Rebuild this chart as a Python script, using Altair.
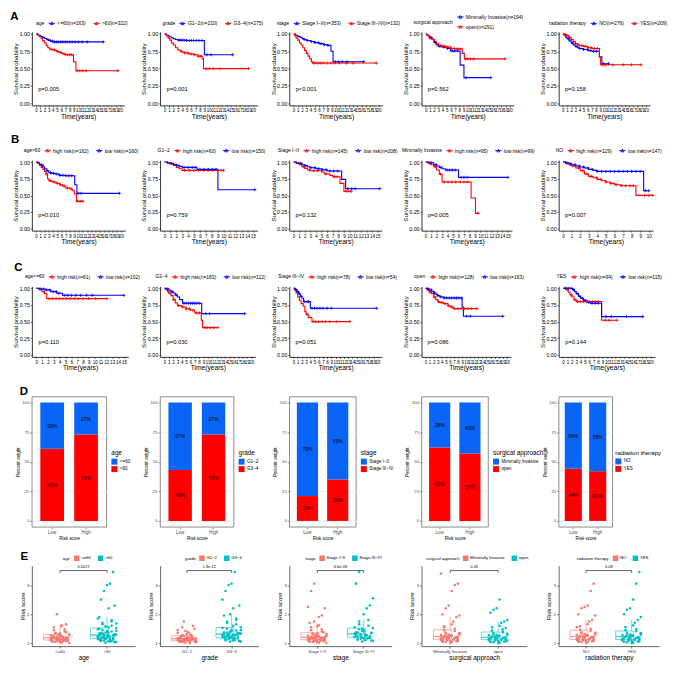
import altair as alt
import pandas as pd

FONT = "Liberation Sans"
KM_RED, KM_BLUE = "#FF0000", "#0000FF"
D_BLUE, D_RED = "#0A64F5", "#FF0000"
E_C1, E_C2 = "#F8766D", "#00BFC4"

# ---------------- Kaplan-Meier data: step times, survival after step, censor times (last = end of follow-up)
# Row A
a1_1_t = [0, 0.5, 1, 1.5, 2, 2.5, 3, 3.5, 4]
a1_1_s = [1, 0.98, 0.965, 0.95, 0.935, 0.92, 0.905, 0.895, 0.885]
a1_1_c = [2.8, 3.4, 3.9, 4.4, 4.9, 5.4, 5.9, 6.4, 6.9, 7.4, 8.0, 8.6, 9.3, 10.1, 11.0, 12.2, 16.0]
a1_2_t = [0, 0.4, 0.8, 1.2, 1.6, 2, 2.4, 2.8, 3.2, 4, 4.5, 5, 5.5, 6, 6.5, 7, 8.9, 9.5]
a1_2_s = [1, 0.98, 0.96, 0.93, 0.9, 0.87, 0.83, 0.8, 0.78, 0.77, 0.76, 0.745, 0.735, 0.72, 0.71, 0.7, 0.6, 0.47]
a1_2_c = [3.6, 4.3, 5.2, 5.9, 6.7, 7.4, 8.0, 8.5, 9.8, 10.4, 11.1, 11.9, 19.5]
a2_1_t = [0, 0.5, 1, 1.5, 2, 2.5, 3, 5, 9]
a2_1_s = [1, 0.98, 0.96, 0.945, 0.93, 0.92, 0.91, 0.905, 0.70]
a2_1_c = [3.3, 3.8, 4.4, 5.0, 5.6, 6.1, 6.6, 7.2, 7.8, 8.5, 9.6, 10.5, 15.4]
a2_2_t = [0, 0.4, 0.8, 1.2, 1.6, 2, 2.5, 3, 3.5, 4, 4.5, 5.5, 6.5, 7.5, 8.5, 8.8]
a2_2_s = [1, 0.97, 0.94, 0.91, 0.87, 0.84, 0.8, 0.77, 0.75, 0.735, 0.725, 0.71, 0.7, 0.68, 0.64, 0.5]
a2_2_c = [3.8, 4.6, 5.3, 6.0, 6.8, 7.6, 8.2, 9.4, 10.1, 11.0, 12.5, 19.0]
a3_1_t = [0, 0.5, 1, 1.5, 2, 2.5, 3, 4, 5, 6, 7, 8, 8.8, 9.3]
a3_1_s = [1, 0.98, 0.965, 0.95, 0.935, 0.92, 0.905, 0.89, 0.875, 0.86, 0.845, 0.835, 0.75, 0.6]
a3_1_c = [2.5, 3.3, 4.2, 5.0, 5.8, 6.5, 7.3, 8.1, 9.8, 10.6, 11.5, 12.6, 16.5]
a3_2_t = [0, 0.3, 0.6, 1, 1.4, 1.8, 2.2, 2.6, 3, 3.4, 3.8, 4.2, 4.5]
a3_2_s = [1, 0.97, 0.94, 0.91, 0.87, 0.84, 0.8, 0.76, 0.72, 0.68, 0.64, 0.6, 0.58]
a3_2_c = [4.7, 5.2, 5.8, 6.4, 7.0, 7.9, 8.8, 9.7, 10.8, 12.4, 14.0, 19.5]
a4_1_t = [0, 0.3, 0.7, 1, 1.5, 2, 2.5, 3, 4, 5, 5.9, 8.2, 9.1]
a4_1_s = [1, 0.98, 0.97, 0.95, 0.92, 0.88, 0.84, 0.82, 0.81, 0.79, 0.755, 0.55, 0.37]
a4_1_c = [1.2, 2.2, 3.4, 4.3, 5.2, 6.3, 6.9, 7.6, 9.6, 15.5]
a4_2_t = [0, 0.3, 0.7, 1, 1.5, 2, 2.5, 3, 3.5, 4, 5, 6, 7, 8.7, 9.2]
a4_2_s = [1, 0.98, 0.96, 0.94, 0.92, 0.89, 0.86, 0.84, 0.83, 0.82, 0.81, 0.79, 0.785, 0.72, 0.64]
a4_2_c = [1.0, 1.8, 2.7, 3.6, 4.5, 5.3, 6.1, 6.8, 7.5, 8.2, 9.5, 10.0, 10.6, 11.4, 18.9]
a5_1_t = [0, 0.3, 0.7, 1, 1.5, 2, 2.5, 3, 3.5, 4, 5, 6, 7, 8.8, 9.4]
a5_1_s = [1, 0.98, 0.95, 0.93, 0.9, 0.87, 0.84, 0.82, 0.8, 0.79, 0.775, 0.76, 0.75, 0.67, 0.57]
a5_1_c = [1.4, 2.3, 3.2, 4.1, 5.0, 5.9, 6.6, 7.4, 8.1, 9.8, 11.0]
a5_2_t = [0, 0.5, 1, 1.5, 2, 2.5, 3, 3.5, 4, 5, 6, 7, 8.8, 9.1]
a5_2_s = [1, 0.99, 0.97, 0.95, 0.92, 0.89, 0.86, 0.84, 0.83, 0.82, 0.8, 0.79, 0.66, 0.555]
a5_2_c = [0.6, 1.3, 2.1, 3.0, 3.8, 4.6, 5.4, 6.1, 6.9, 7.6, 8.3, 9.6, 10.3, 12.0, 14.5, 16.5, 18.8]
# Row B
b1_1_t = [0, 0.4, 0.8, 1.2, 1.6, 2, 2.3, 2.7, 3, 3.5, 4, 4.7, 5.5, 6.2, 7, 8, 8.5, 9, 9.5]
b1_1_s = [1, 0.98, 0.95, 0.92, 0.89, 0.86, 0.82, 0.75, 0.72, 0.71, 0.7, 0.68, 0.66, 0.64, 0.61, 0.6, 0.57, 0.52, 0.41]
b1_1_c = [2.5, 3.3, 4.2, 5.0, 5.8, 6.6, 7.4, 8.2, 9.8, 10.4, 11.0]
b1_2_t = [0, 0.4, 0.8, 1.2, 1.6, 2, 2.5, 3, 3.5, 4.5, 5.5, 7, 9.1, 9.6]
b1_2_s = [1, 0.99, 0.97, 0.95, 0.93, 0.9, 0.87, 0.84, 0.83, 0.82, 0.8, 0.795, 0.66, 0.53]
b1_2_c = [1.5, 2.6, 3.4, 4.1, 4.9, 5.6, 6.3, 7.0, 7.7, 8.4, 9.9, 10.6, 19.6]
b2_1_t = [0, 0.5, 1, 1.5, 2, 2.5, 3]
b2_1_s = [1, 0.98, 0.97, 0.95, 0.92, 0.9, 0.875]
b2_1_c = [3.4, 4.2, 5.0, 5.8, 6.6, 7.4, 8.2, 9.0, 9.6, 10.0]
b2_2_t = [0, 0.5, 1, 1.5, 2, 2.5, 3, 5.5, 9.05]
b2_2_s = [1, 0.99, 0.98, 0.965, 0.95, 0.935, 0.92, 0.89, 0.585]
b2_2_c = [1.2, 2.1, 3.3, 4.0, 4.7, 5.2, 6.0, 6.7, 7.4, 8.1, 8.7, 15.3]
b3_1_t = [0, 0.5, 1, 1.5, 2, 2.5, 3, 5, 5.5, 6.5, 7, 8.3, 9]
b3_1_s = [1, 0.98, 0.96, 0.93, 0.905, 0.88, 0.87, 0.85, 0.82, 0.8, 0.78, 0.68, 0.56]
b3_1_c = [1.8, 2.9, 3.6, 4.3, 5.8, 7.3, 7.8, 9.4, 9.9, 10.3]
b3_2_t = [0, 0.5, 1, 1.5, 2, 2.5, 3, 4, 5, 6, 8.6, 9.3]
b3_2_s = [1, 0.99, 0.98, 0.96, 0.945, 0.93, 0.915, 0.9, 0.885, 0.865, 0.74, 0.6]
b3_2_c = [1.3, 2.2, 3.1, 3.8, 4.5, 5.2, 5.8, 6.5, 7.2, 7.9, 9.7, 10.4, 11.0, 15.4]
b4_1_t = [0, 0.5, 1, 1.5, 2, 2.5, 3, 8.3, 9.1]
b4_1_s = [1, 0.98, 0.96, 0.93, 0.88, 0.82, 0.70, 0.46, 0.23]
b4_1_c = [0.8, 1.7, 2.7, 3.4, 4.1, 4.8, 5.5, 6.3, 7.0, 7.7, 9.6]
b4_2_t = [0, 0.7, 1.5, 2, 2.5, 3, 3.6, 6]
b4_2_s = [1, 0.99, 0.96, 0.94, 0.92, 0.9, 0.88, 0.77]
b4_2_c = [1.0, 1.9, 2.8, 3.9, 4.4, 4.9, 5.4, 6.5, 7.0, 7.6, 15.0]
b5_1_t = [0, 0.3, 0.7, 1, 1.5, 2, 2.5, 3, 3.5, 4, 4.5, 5, 5.5, 6, 6.7, 8.5]
b5_1_s = [1, 0.98, 0.955, 0.94, 0.91, 0.87, 0.82, 0.785, 0.765, 0.74, 0.72, 0.7, 0.68, 0.66, 0.645, 0.5]
b5_1_c = [0.5, 1.2, 1.8, 2.3, 2.8, 3.3, 3.9, 4.4, 5.0, 5.6, 6.2, 6.8, 7.3, 7.8, 8.2, 9.5, 10.0, 10.45]
b5_2_t = [0, 0.3, 0.7, 1, 1.5, 2, 2.5, 3, 3.5, 4, 9.4]
b5_2_s = [1, 0.99, 0.975, 0.96, 0.94, 0.925, 0.91, 0.89, 0.875, 0.86, 0.57]
b5_2_c = [0.4, 0.9, 1.4, 1.9, 2.4, 2.9, 3.4, 4.0, 4.5, 5.0, 5.5, 6.0, 6.5, 7.0, 7.5, 8.0, 8.5, 9.0, 9.6, 10.0]
# Row C
c1_1_t = [0, 0.5, 1, 1.4, 1.8]
c1_1_s = [1, 0.98, 0.95, 0.92, 0.845]
c1_1_c = [2.2, 2.8, 3.4, 4.0, 4.6, 5.2, 5.8, 6.5, 7.2, 8.0, 9.0, 10.2, 12.1]
c1_2_t = [0, 0.5, 1.5, 2.5, 3.5, 4.5]
c1_2_s = [1, 0.99, 0.975, 0.95, 0.925, 0.895]
c1_2_c = [0.8, 1.3, 1.8, 2.3, 2.9, 3.4, 3.9, 4.9, 5.4, 6.0, 6.8, 7.6, 8.6, 9.6, 15.0]
c2_1_t = [0, 0.3, 0.7, 1, 1.5, 2, 2.5, 3, 4, 5, 6, 7, 8.5, 8.8]
c2_1_s = [1, 0.98, 0.95, 0.93, 0.89, 0.83, 0.78, 0.74, 0.72, 0.69, 0.67, 0.63, 0.52, 0.41]
c2_1_c = [1.2, 2.2, 3.3, 4.2, 5.0, 5.8, 6.6, 7.4, 8.1, 9.3, 9.9, 10.6, 11.4, 12.3]
c2_2_t = [0, 0.5, 1, 1.5, 2, 2.5, 3, 3.5, 4.2, 8.6]
c2_2_s = [1, 0.99, 0.97, 0.95, 0.93, 0.9, 0.87, 0.83, 0.775, 0.62]
c2_2_c = [0.8, 1.8, 2.7, 4.5, 5.0, 5.5, 6.0, 6.5, 7.0, 7.5, 8.0, 9.5, 10.4, 18.5]
c3_1_t = [0, 0.3, 0.6, 1, 1.4, 1.8, 2.3, 2.7, 3, 3.5, 4.4]
c3_1_s = [1, 0.97, 0.93, 0.87, 0.82, 0.77, 0.73, 0.65, 0.61, 0.56, 0.5]
c3_1_c = [3.2, 4.7, 5.3, 6.0, 6.8, 7.6, 8.6, 10.2, 13.4]
c3_2_t = [0, 0.4, 0.8, 1.2, 1.6, 2, 2.4, 4]
c3_2_s = [1, 0.98, 0.95, 0.92, 0.88, 0.85, 0.8, 0.70]
c3_2_c = [0.6, 1.0, 1.4, 1.8, 2.6, 3.2, 3.6, 4.4, 5.0, 5.6, 6.3, 7.0, 8.0, 9.0, 19.8]
c4_1_t = [0, 0.3, 0.7, 1, 1.5, 2, 2.5, 3, 3.5, 4.5, 5.5, 6, 6.8]
c4_1_s = [1, 0.98, 0.96, 0.94, 0.92, 0.87, 0.83, 0.8, 0.785, 0.77, 0.74, 0.72, 0.695]
c4_1_c = [1.2, 2.2, 3.2, 4.0, 4.8, 5.6, 6.4, 7.2, 8.0, 8.8, 9.6, 10.4, 11.2, 12.6]
c4_2_t = [0, 0.5, 1, 1.5, 2, 2.5, 3, 3.5, 4.5, 9, 9.3]
c4_2_s = [1, 0.99, 0.975, 0.955, 0.93, 0.91, 0.89, 0.87, 0.855, 0.72, 0.58]
c4_2_c = [0.7, 1.4, 2.2, 3.0, 3.8, 4.6, 5.2, 5.8, 6.4, 7.0, 7.6, 8.2, 8.8, 10.1, 11.0, 19.0]
c5_1_t = [0, 0.8, 1.2, 1.6, 2, 2.5, 3, 8.8]
c5_1_s = [1, 0.98, 0.94, 0.9, 0.87, 0.83, 0.8, 0.52]
c5_1_c = [0.5, 1.0, 1.9, 2.7, 3.3, 3.9, 4.6, 5.3, 6.0, 6.7, 7.4, 8.1, 9.6, 10.5, 12.3]
c5_2_t = [0, 2.2, 2.6, 3, 3.5, 4, 4.6, 5.5, 6.2, 8.8]
c5_2_s = [1, 0.98, 0.95, 0.92, 0.88, 0.85, 0.82, 0.79, 0.775, 0.575]
c5_2_c = [0.6, 1.2, 1.8, 2.4, 3.2, 3.8, 4.4, 5.0, 5.8, 6.6, 7.3, 8.0, 9.8, 11.0, 14.5, 18.2]

# legend texts / p-values
a_titles = ["age", "grade", "stage", "surgical approach", "radiation therapy"]
a_labels = [["<=60(n=163)", ">60(n=322)"], ["G1−2(n=210)", "G3−4(n=275)"],
            ["Stage I−II(n=353)", "Stage III−IV(n=132)"], ["Minimally Invasive(n=194)", "open(n=291)"],
            ["NO(n=276)", "YES(n=209)"]]
a_pvals = ["p=0.005", "p=0.001", "p<0.001", "p=0.562", "p=0.158"]
b_titles = ["age>60", "G1−2", "Stage I−II", "Minimally Invasive", "NO"]
b_labels = [["high risk(n=162)", "low risk(n=160)"], ["high risk(n=60)", "low risk(n=150)"],
            ["high risk(n=145)", "low risk(n=208)"], ["high risk(n=95)", "low risk(n=99)"],
            ["high risk(n=129)", "low risk(n=147)"]]
b_pvals = ["p=0.010", "p=0.759", "p=0.132", "p=0.005", "p=0.007"]
b_xmax = [20, 15, 15, 15, 10]
c_titles = ["age<=60", "G3−4", "Stage III−IV", "open", "YES"]
c_labels = [["high risk(n=61)", "low risk(n=102)"], ["high risk(n=163)", "low risk(n=112)"],
            ["high risk(n=78)", "low risk(n=54)"], ["high risk(n=128)", "low risk(n=163)"],
            ["high risk(n=94)", "low risk(n=115)"]]
c_pvals = ["p=0.110", "p=0.030", "p=0.051", "p=0.086", "p=0.144"]
c_xmax = [15, 20, 20, 20, 20]

# ---------------- D: percent of each level in Low / High risk groups (first level, blue)
grp_titles = ["age", "grade", "stage", "surgical approach", "radiation therapy"]
grp_levels = [["<=60", ">60"], ["G1−2", "G3−4"], ["Stage I−II", "Stage III−IV"],
              ["Minimally Invasive", "open"], ["NO", "YES"]]
d_low_first = [39, 57, 79, 38, 56]
d_high_first = [27, 27, 65, 43, 58]

# ---------------- E: risk scores per group
e_age_1 = [1.12, 1.05, 1.21, 1.33, 1.08, 1.17, 1.26, 1.02, 1.14, 1.41, 1.19, 1.09, 1.28, 1.15, 1.06, 1.23, 1.36,
           1.11, 1.18, 1.03, 1.25, 1.13, 1.48, 1.07, 1.2, 1.31, 1.1, 1.16, 1.55, 1.04, 1.22, 1.29, 1.12, 1.62,
           1.08, 1.19, 1.38, 1.14, 1.01, 1.27, 1.24, 1.45, 1.16, 2.0, 1.09, 1.33, 1.58, 1.21, 1.11, 1.65]
e_age_2 = [1.15, 1.32, 1.08, 1.45, 1.21, 1.02, 1.38, 1.27, 1.12, 1.6, 1.19, 1.05, 1.52, 1.24, 1.35, 1.1, 1.7,
           1.29, 1.16, 1.42, 1.07, 1.22, 1.8, 1.13, 1.31, 1.04, 1.48, 1.26, 1.18, 1.65, 1.09, 1.37, 1.2, 1.55,
           1.14, 1.75, 1.28, 1.03, 1.43, 1.23, 1.9, 1.11, 1.34, 1.17, 1.58, 1.25, 2.2, 1.06, 1.4, 1.19, 2.3,
           1.3, 1.85, 1.12, 2.5, 1.22, 2.8, 1.15, 3.0, 1.36, 3.05, 1.08, 3.45, 1.27, 1.68, 1.2, 1.5, 1.33]
e_grade_1 = [1.1, 1.05, 1.18, 1.12, 1.25, 1.02, 1.15, 1.08, 1.3, 1.13, 1.2, 1.06, 1.16, 1.35, 1.09, 1.22, 1.04,
             1.14, 1.42, 1.11, 1.19, 1.07, 1.27, 1.13, 1.5, 1.03, 1.17, 1.1, 1.24, 1.55, 1.08, 1.16, 1.32,
             1.12, 1.01, 1.21, 1.6, 1.14, 1.09, 1.45, 1.18, 1.06, 1.28, 1.75, 1.11, 1.2, 1.38, 1.15]
e_grade_2 = [1.2, 1.35, 1.1, 1.5, 1.25, 1.05, 1.42, 1.3, 1.15, 1.65, 1.22, 1.08, 1.55, 1.28, 1.38, 1.12, 1.75,
             1.32, 1.18, 1.46, 1.09, 1.26, 1.85, 1.16, 1.34, 1.06, 1.52, 1.29, 1.21, 1.7, 1.13, 1.4, 1.24,
             1.6, 1.17, 1.8, 1.31, 1.07, 1.45, 1.27, 1.95, 1.14, 1.37, 1.19, 2.0, 1.23, 2.2, 1.11, 1.44, 1.36,
             2.3, 1.33, 2.5, 1.2, 2.8, 1.26, 3.0, 1.39, 3.05, 1.15, 3.45, 1.3]
e_stage_1 = [1.12, 1.05, 1.2, 1.3, 1.08, 1.16, 1.25, 1.02, 1.14, 1.4, 1.18, 1.09, 1.27, 1.15, 1.06, 1.22, 1.35,
             1.11, 1.19, 1.03, 1.24, 1.13, 1.48, 1.07, 1.21, 1.32, 1.1, 1.17, 1.55, 1.04, 1.23, 1.28, 1.12,
             1.62, 1.08, 1.19, 1.38, 1.14, 1.01, 1.26, 1.7, 1.45, 1.16, 1.75, 1.09, 1.33, 1.9, 1.2, 1.95, 1.11,
             2.2, 1.25, 2.25, 1.13, 2.8, 1.18, 3.05, 1.3, 1.58, 1.22]
e_stage_2 = [1.22, 1.35, 1.12, 1.48, 1.28, 1.06, 1.4, 1.3, 1.16, 1.6, 1.24, 1.09, 1.52, 1.33, 1.38, 1.14, 1.75,
             1.31, 1.2, 1.45, 1.1, 1.27, 1.8, 1.18, 1.36, 1.08, 1.55, 1.29, 1.23, 1.65, 1.15, 1.42, 2.0, 1.26,
             2.2, 1.19, 2.3, 1.34, 2.55, 1.21, 3.05, 1.37, 3.45, 1.25, 1.5, 1.17]
e_surg_1 = [1.15, 1.06, 1.22, 1.32, 1.1, 1.18, 1.27, 1.03, 1.14, 1.42, 1.2, 1.08, 1.29, 1.16, 1.05, 1.24, 1.37,
            1.12, 1.19, 1.02, 1.26, 1.13, 1.5, 1.07, 1.21, 1.34, 1.11, 1.17, 1.58, 1.04, 1.23, 1.3, 1.09, 1.65,
            1.75, 1.19, 1.9, 1.14, 1.95, 1.28, 2.0, 1.45, 2.2, 1.16, 2.3, 1.25, 2.8, 1.12, 3.0, 1.2, 3.05, 1.35,
            3.4, 1.1, 1.55, 1.23]
e_surg_2 = [1.14, 1.05, 1.21, 1.3, 1.09, 1.17, 1.26, 1.02, 1.13, 1.4, 1.19, 1.07, 1.28, 1.15, 1.04, 1.23, 1.35,
            1.11, 1.18, 1.01, 1.25, 1.12, 1.48, 1.06, 1.2, 1.33, 1.1, 1.16, 1.55, 1.03, 1.22, 1.29, 1.08, 1.6,
            1.7, 1.18, 1.75, 1.14, 1.8, 1.27, 2.05, 1.44, 2.15, 1.16, 2.2, 1.24, 2.5, 1.12, 1.38, 1.2, 1.52, 1.09]
e_rad_1 = [1.15, 1.06, 1.23, 1.33, 1.1, 1.18, 1.28, 1.03, 1.14, 1.43, 1.2, 1.08, 1.3, 1.16, 1.05, 1.25, 1.38,
           1.12, 1.19, 1.02, 1.27, 1.13, 1.5, 1.07, 1.21, 1.35, 1.11, 1.17, 1.58, 1.04, 1.24, 1.31, 1.09, 1.65,
           1.75, 1.19, 1.8, 1.14, 1.95, 1.29, 2.0, 1.46, 2.2, 1.16, 2.25, 1.26, 2.3, 1.12, 2.8, 1.22, 3.05, 1.36,
           1.55, 1.1]
e_rad_2 = [1.14, 1.05, 1.22, 1.31, 1.09, 1.17, 1.27, 1.02, 1.13, 1.41, 1.19, 1.07, 1.29, 1.15, 1.04, 1.24, 1.36,
           1.11, 1.18, 1.01, 1.26, 1.12, 1.48, 1.06, 1.2, 1.34, 1.1, 1.16, 1.56, 1.03, 1.23, 1.3, 1.08, 1.62,
           1.7, 1.18, 1.8, 1.14, 1.9, 1.28, 2.0, 1.45, 2.15, 1.16, 2.2, 1.25, 2.5, 1.12, 3.05, 1.21, 3.45, 1.33]
e_pvals = ["0.0017", "1.3e-12", "6.6e-08", "0.45", "0.08"]
e_bracket = [3.42, 3.5, 3.5, 3.42]
e_ptext_y = 3.62

KEY = "M-1,0L1,0M-0.45,0.4L0,-0.45L0.45,0.4Z"
CENS = "M-1,0L1,0M0,-1L0,1"
SP = pd.DataFrame({"a": [0]})


def tw(s, fs):
    w = 0.0
    for ch in s:
        if ch in "il.,:;'|!":
            w += 0.24
        elif ch in "frtjI()-[] ":
            w += 0.31
        elif ch in "mwMW%":
            w += 0.84
        elif ch in "<>=−+":
            w += 0.584
        elif ch.isupper():
            w += 0.68
        else:
            w += 0.54
    return w * fs


def tag_layer(tag, dx, dy):
    # panel letter, placed relative to the panel's plot area
    return alt.Chart(SP).mark_text(text=tag, fontSize=11.5, fontWeight="bold", align="left",
                                   baseline="alphabetic", color="black", font=FONT).encode(
        x=alt.value(dx), y=alt.value(dy))


def km_panel(curves, title, labels, colors, xmax, ptext, w, h, leg_y, leg_cols=0, tag=None, tdx=0, tdy=0):
    lrows, crows = [], []
    for (t, s, c), lab in zip(curves, labels):
        for ti, si in zip(t, s):
            lrows.append({"t": ti, "s": si, "g": lab})
        lrows.append({"t": max(c), "s": s[-1], "g": lab})
        for ci in c:
            cur = s[0]
            for ti, si in zip(t, s):
                if ti <= ci:
                    cur = si
            crows.append({"t": ci, "s": cur, "g": lab})
    xs = alt.Scale(domain=[-0.05 * xmax, 1.05 * xmax], nice=False, zero=False)
    ys = alt.Scale(domain=[-0.03, 1.03], nice=False, zero=False)
    xax = alt.Axis(values=list(range(xmax + 1)), title="Time(years)", labelFontSize=4.5, labelOverlap=False,
                   labelFlush=False, labelPadding=1, tickSize=1.5, tickWidth=0.6, domainWidth=0.8,
                   titleFontSize=6.7, titlePadding=1)
    yax = alt.Axis(values=[0, 0.25, 0.5, 0.75, 1], format=".2f", title="Survival probability", labelFontSize=5.3,
                   labelPadding=1, tickSize=1.5, tickWidth=0.6, domainWidth=0.8, titleFontSize=6.2,
                   titlePadding=0.5)
    X = alt.X("t:Q", scale=xs, axis=xax)
    Y = alt.Y("s:Q", scale=ys, axis=yax)
    fs = 5.0
    ent = [6.3 + 1.5 + tw(l, fs) for l in labels]
    if leg_cols == 1:
        lw = tw(title, fs) + 3 + max(ent)
    else:
        lw = tw(title, fs) + 3 + sum(ent) + 5 * (len(ent) - 1)
    lkw = dict(orient="none", legendX=(w - lw) / 2, legendY=leg_y, direction="horizontal", title=title,
               titleOrient="left", titleFontSize=fs, titleFontWeight="normal", titlePadding=3, labelFontSize=fs,
               labelOffset=1.5, columnPadding=5, rowPadding=2, symbolType=KEY, symbolSize=40,
               symbolStrokeWidth=0.9, padding=0)
    if leg_cols:
        lkw["columns"] = leg_cols
    C = alt.Color("g:N", scale=alt.Scale(domain=labels, range=colors), legend=alt.Legend(**lkw))
    line = alt.Chart(pd.DataFrame(lrows)).mark_line(interpolate="step-after", strokeWidth=1.1).encode(
        x=X, y=Y, color=C)
    cens = alt.Chart(pd.DataFrame(crows)).mark_point(shape=CENS, filled=False, size=10, strokeWidth=0.8,
                                                      opacity=1).encode(x=X, y=Y, color=C)
    ptx = alt.Chart(pd.DataFrame({"t": [0.025 * xmax], "s": [0.2], "p": [ptext]})).mark_text(
        align="left", baseline="middle", fontSize=5.8, color="black").encode(x=X, y=Y, text="p:N")
    layers = [line, cens, ptx]
    if tag:
        layers.append(tag_layer(tag, tdx, tdy))
    return alt.layer(*layers).properties(width=w, height=h)


def d_panel(i, w, h, tag=None, tdx=0, tdy=0, title_fs=6.4, leg_dx=5):
    levels = grp_levels[i]
    rows = []
    for risk, first in (("Low", d_low_first[i]), ("High", d_high_first[i])):
        second = 100 - first
        rows.append({"risk": risk, "lev": levels[1], "y0": 0, "y1": second, "lab": f"{second}%"})
        rows.append({"risk": risk, "lev": levels[0], "y0": second, "y1": 100, "lab": f"{first}%"})
    df = pd.DataFrame(rows)
    df["mid"] = (df["y0"] + df["y1"]) / 2
    xs = alt.Scale(domain=["Low", "High"], paddingInner=0.3, paddingOuter=0.25)
    ys = alt.Scale(domain=[-5, 105], nice=False, zero=False)
    xax = alt.Axis(title="Risk score", labelAngle=0, labelFontSize=4.5, titleFontSize=4.5, labelColor="#4D4D4D",
                   tickColor="#333333", tickSize=2, tickWidth=0.5, domain=False, grid=True, gridColor="#EBEBEB",
                   gridWidth=0.8, labelPadding=1, titlePadding=1)
    yax = alt.Axis(values=[0, 25, 50, 75, 100], title="Percent weight", labelFontSize=4.3, titleFontSize=4.5,
                   labelColor="#4D4D4D", tickColor="#333333", tickSize=2, tickWidth=0.5, domain=False,
                   grid=True, gridColor="#EBEBEB", gridWidth=0.8, labelPadding=1, titlePadding=1.5)
    X = alt.X("risk:N", scale=xs, axis=xax)
    leg = alt.Legend(orient="none", legendX=w + leg_dx, legendY=54, title=grp_titles[i], titleFontSize=title_fs,
                     titleFontWeight="normal", labelFontSize=4.6, symbolType="square", symbolSize=36,
                     symbolStrokeWidth=0, rowPadding=1.5, labelOffset=2.5, titlePadding=2, padding=0)
    bars = alt.Chart(df).mark_bar().encode(
        x=X, y=alt.Y("y0:Q", scale=ys, axis=yax), y2="y1:Q",
        color=alt.Color("lev:N", scale=alt.Scale(domain=levels, range=[D_BLUE, D_RED]), legend=leg))
    txt = alt.Chart(df).mark_text(fontSize=5, color="black").encode(
        x=X, y=alt.Y("mid:Q", scale=ys, axis=yax), text="lab:N")
    layers = [bars, txt]
    if tag:
        layers.append(tag_layer(tag, tdx, tdy))
    return alt.layer(*layers).properties(width=w, height=h,
                                         view=alt.ViewBackground(stroke="#595959", strokeWidth=0.7))


def e_panel(i, v1, v2, w, h, tag=None, tdx=0, tdy=0):
    levels = grp_levels[i]
    rows = [{"g": levels[0], "v": v, "k": j % 13} for j, v in enumerate(v1)] + \
           [{"g": levels[1], "v": v, "k": j % 13} for j, v in enumerate(v2)]
    df = pd.DataFrame(rows)
    xs = alt.Scale(domain=levels, paddingInner=0.3, paddingOuter=0.25)
    ys = alt.Scale(domain=[0.9, 3.67], nice=False, zero=False)
    xax = alt.Axis(title=grp_titles[i], labelAngle=0, labelFontSize=4.2, titleFontSize=6.5, tickSize=2,
                   tickWidth=0.5, labelPadding=1, titlePadding=1.5, domainWidth=0.6, labelColor="#333333")
    yax = alt.Axis(values=[1, 2, 3], title="Risk score", labelFontSize=4.2, titleFontSize=6, tickSize=2,
                   tickWidth=0.5, labelPadding=1, titlePadding=1.5, domainWidth=0.6, labelColor="#333333")
    X = alt.X("g:N", scale=xs, axis=xax)
    cs = alt.Scale(domain=levels, range=[E_C1, E_C2])
    fs = 4.3
    lw = tw(grp_titles[i], fs) + 3 + sum(4 + 1.5 + tw(l, fs) for l in levels) + 4
    leg = alt.Legend(orient="none", legendX=(w - lw) / 2, legendY=-10.5, direction="horizontal",
                     title=grp_titles[i], titleOrient="left", titleFontSize=fs, titleFontWeight="normal",
                     titlePadding=3, labelFontSize=fs, labelOffset=1.5, columnPadding=4, symbolType="square",
                     symbolSize=16, padding=0)
    bw = 0.7 * w / 2.2
    pts = alt.Chart(df).mark_circle(size=6.5, opacity=1).encode(
        x=X, xOffset=alt.XOffset("k:O", scale=alt.Scale(range=[bw / 2 - 10, bw / 2 + 10])),
        y=alt.Y("v:Q", scale=ys, axis=yax), color=alt.Color("g:N", scale=cs, legend=leg))
    S = alt.Stroke("g:N", scale=cs, legend=None)
    agg = alt.Chart(df).transform_aggregate(q1="q1(v)", q3="q3(v)", med="median(v)", groupby=["g"])
    rect = agg.mark_bar(fill="transparent", strokeWidth=0.6).encode(
        x=X, y=alt.Y("q1:Q", scale=ys, axis=yax), y2="q3:Q", stroke=S)
    med = agg.mark_bar(fill="transparent", strokeWidth=0.6).encode(
        x=X, y=alt.Y("med:Q", scale=ys, axis=yax), y2="med:Q", stroke=S)
    wh = alt.Chart(df).transform_joinaggregate(q1="q1(v)", q3="q3(v)", groupby=["g"]).transform_calculate(
        lo="datum.q1 - 1.5 * (datum.q3 - datum.q1)", hi="datum.q3 + 1.5 * (datum.q3 - datum.q1)"
    ).transform_filter("datum.v >= datum.lo && datum.v <= datum.hi").transform_aggregate(
        wmin="min(v)", wmax="max(v)", q1="max(q1)", q3="max(q3)", groupby=["g"])
    wlo = wh.mark_rule(strokeWidth=0.6).encode(x=X, y=alt.Y("wmin:Q", scale=ys, axis=yax), y2="q1:Q", stroke=S)
    whi = wh.mark_rule(strokeWidth=0.6).encode(x=X, y=alt.Y("q3:Q", scale=ys, axis=yax), y2="wmax:Q", stroke=S)
    br = alt.Chart(pd.DataFrame({"g": [levels[0], levels[0], levels[1], levels[1]], "y": e_bracket,
                                 "o": [0, 1, 2, 3]})).mark_line(color="black", strokeWidth=0.6).encode(
        x=X, y=alt.Y("y:Q", scale=ys, axis=yax), order="o:Q")
    pt = alt.Chart(pd.DataFrame({"g": [levels[0]], "y": [e_ptext_y], "p": [e_pvals[i]]})).mark_text(
        fontSize=4, dx=w / 4.4, baseline="middle", color="black").encode(
        x=X, y=alt.Y("y:Q", scale=ys, axis=yax), text="p:N")
    layers = [pts, rect, med, wlo, whi, br, pt]
    if tag:
        layers.append(tag_layer(tag, tdx, tdy))
    return alt.layer(*layers).properties(width=w, height=h)


def spacer(w, h):
    w = max(int(w), 1)
    # invisible, zero-size point kept inside the cell so it adds nothing to the bounds
    return alt.Chart(SP).mark_point(opacity=0, size=1, strokeWidth=0).encode(
        x=alt.value(w / 2), y=alt.value(h / 2)).properties(width=w, height=h)


# shared grid: spacer column widths before each panel column (panel columns start at 23,152,282,415,553)
SP_W = [23, 25, 31, 30, 32]


def plot_row(panels, h):
    cells = []
    for p, sw in zip(panels, SP_W):
        cells.append(spacer(sw, h))
        cells.append(p)
    return cells


def gap_row(h):
    return [spacer(1, h) for _ in range(10)]


A_W, A_H = [93, 98, 94, 93, 92], 74
B_W, B_H = [94, 98, 93, 91, 95], 71
C_W, C_H = [97, 96, 93, 90, 97], 71
D_W, D_H = [75, 74, 67, 67, 54], 131
E_W, E_H = [104, 99, 103, 106, 101], 81

a_curves = [[(a1_1_t, a1_1_s, a1_1_c), (a1_2_t, a1_2_s, a1_2_c)],
            [(a2_1_t, a2_1_s, a2_1_c), (a2_2_t, a2_2_s, a2_2_c)],
            [(a3_1_t, a3_1_s, a3_1_c), (a3_2_t, a3_2_s, a3_2_c)],
            [(a4_1_t, a4_1_s, a4_1_c), (a4_2_t, a4_2_s, a4_2_c)],
            [(a5_1_t, a5_1_s, a5_1_c), (a5_2_t, a5_2_s, a5_2_c)]]
b_curves = [[(b1_1_t, b1_1_s, b1_1_c), (b1_2_t, b1_2_s, b1_2_c)],
            [(b2_1_t, b2_1_s, b2_1_c), (b2_2_t, b2_2_s, b2_2_c)],
            [(b3_1_t, b3_1_s, b3_1_c), (b3_2_t, b3_2_s, b3_2_c)],
            [(b4_1_t, b4_1_s, b4_1_c), (b4_2_t, b4_2_s, b4_2_c)],
            [(b5_1_t, b5_1_s, b5_1_c), (b5_2_t, b5_2_s, b5_2_c)]]
c_curves = [[(c1_1_t, c1_1_s, c1_1_c), (c1_2_t, c1_2_s, c1_2_c)],
            [(c2_1_t, c2_1_s, c2_1_c), (c2_2_t, c2_2_s, c2_2_c)],
            [(c3_1_t, c3_1_s, c3_1_c), (c3_2_t, c3_2_s, c3_2_c)],
            [(c4_1_t, c4_1_s, c4_1_c), (c4_2_t, c4_2_s, c4_2_c)],
            [(c5_1_t, c5_1_s, c5_1_c), (c5_2_t, c5_2_s, c5_2_c)]]

row_a = [km_panel(a_curves[i], a_titles[i], a_labels[i], [KM_BLUE, KM_RED], 20, a_pvals[i], A_W[i], A_H,
                  -19 if i == 3 else -13, 1 if i == 3 else 0,
                  tag="A" if i == 0 else None, tdx=-21.8, tdy=-12.2) for i in range(5)]
row_b = [km_panel(b_curves[i], b_titles[i], b_labels[i], [KM_RED, KM_BLUE], b_xmax[i], b_pvals[i], B_W[i], B_H,
                  -14, 0, tag="B" if i == 0 else None, tdx=-21, tdy=-17.1) for i in range(5)]
row_c = [km_panel(c_curves[i], c_titles[i], c_labels[i], [KM_RED, KM_BLUE], c_xmax[i], c_pvals[i], C_W[i], C_H,
                  -14, 0, tag="C" if i == 0 else None, tdx=-17.8, tdy=-15.7) for i in range(5)]
row_d = [d_panel(i, D_W[i], D_H, tag="D" if i == 0 else None, tdx=-12.2, tdy=-1.9,
                 title_fs=6.2 if i == 4 else 6.4, leg_dx=3 if i == 4 else 5) for i in range(5)]
e_vals = [(e_age_1, e_age_2), (e_grade_1, e_grade_2), (e_stage_1, e_stage_2), (e_surg_1, e_surg_2),
          (e_rad_1, e_rad_2)]
row_e = [e_panel(i, e_vals[i][0], e_vals[i][1], E_W[i], E_H, tag="E" if i == 0 else None, tdx=-11.3, tdy=-6.1)
         for i in range(5)]

cells = []
cells += gap_row(21)
cells += plot_row(row_a, A_H)
cells += gap_row(55)
cells += plot_row(row_b, B_H)
cells += gap_row(56)
cells += plot_row(row_c, C_H)
cells += gap_row(40)
cells += plot_row(row_d, D_H)
cells += gap_row(39)
cells += plot_row(row_e, E_H)

chart = alt.concat(*cells, columns=10, spacing=0, align="none", bounds="flush").resolve_scale(
    color="independent", stroke="independent", xOffset="independent", x="independent", y="independent"
).resolve_legend(color="independent", stroke="independent").properties(
    padding=0
).configure(font=FONT).configure_view(stroke="transparent").configure_axis(
    labelFont=FONT, titleFont=FONT, titleFontWeight="normal", domainColor="black", tickColor="black",
    labelColor="black", titleColor="black", grid=False
).configure_legend(labelFont=FONT, titleFont=FONT, labelColor="black", titleColor="black").configure_title(font=FONT)

chart.save("out.html", embed_options={"renderer": "svg", "actions": False})
